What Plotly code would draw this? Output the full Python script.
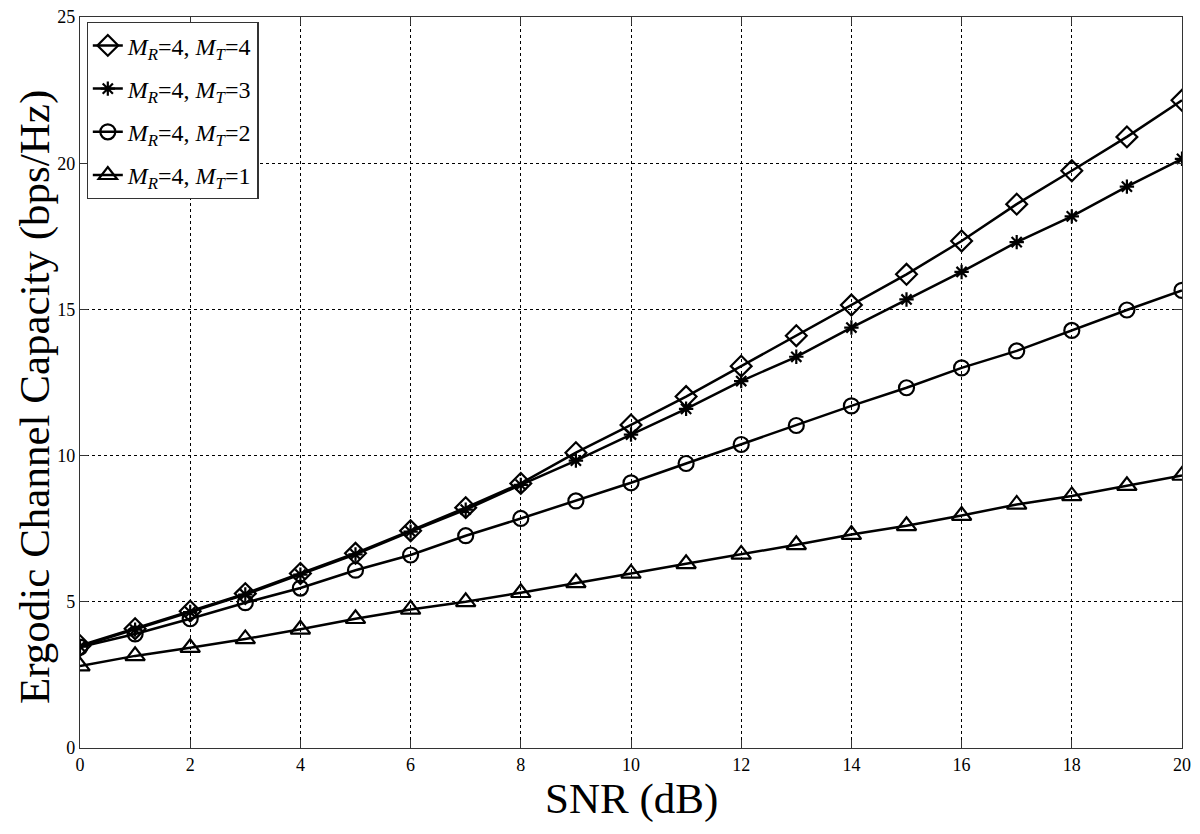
import plotly.graph_objects as go

snr_db = list(range(21))

cap_mt4 = [3.50, 4.08, 4.68, 5.28, 5.97, 6.66, 7.43, 8.22, 9.05, 10.10, 11.05,
           12.02, 13.06, 14.10, 15.15, 16.20, 17.34, 18.60, 19.74, 20.90, 22.15]
cap_mt3 = [3.47, 4.05, 4.65, 5.25, 5.93, 6.62, 7.40, 8.15, 9.00, 9.83, 10.72,
           11.60, 12.55, 13.38, 14.38, 15.34, 16.28, 17.30, 18.18, 19.20, 20.15]
cap_mt2 = [3.45, 3.90, 4.42, 4.97, 5.47, 6.08, 6.60, 7.26, 7.85, 8.45, 9.07,
           9.73, 10.38, 11.03, 11.70, 12.32, 13.00, 13.58, 14.28, 14.98, 15.65]
cap_mt1 = [2.80, 3.15, 3.43, 3.73, 4.06, 4.42, 4.74, 5.00, 5.31, 5.65, 5.97,
           6.30, 6.62, 6.95, 7.30, 7.60, 7.95, 8.33, 8.62, 8.97, 9.32]

series = [
    ("4", cap_mt4, "diamond-open", 16),
    ("3", cap_mt3, "asterisk-open", 12),
    ("2", cap_mt2, "circle-open", 15),
    ("1", cap_mt1, "triangle-up-open", 17),
]

FONT = "Liberation Serif, Times New Roman, serif"

fig = go.Figure()
for mt, values, symbol, size in series:
    fig.add_trace(go.Scatter(
        x=snr_db,
        y=values,
        mode="lines+markers",
        name=f"<i>M<sub>R</sub></i>=4, <i>M<sub>T</sub></i>={mt}",
        legendgroup=f"mt{mt}",
        line=dict(color="black", width=2.5),
        marker=dict(symbol=symbol, size=size, color="black",
                    line=dict(color="black", width=2.2)),
    ))

axis_common = dict(
    showline=True,
    linecolor="#333333",
    linewidth=1.2,
    mirror="ticks",
    ticks="inside",
    ticklen=8,
    tickcolor="#333333",
    showgrid=True,
    gridcolor="black",
    griddash="dot",
    gridwidth=1,
    zeroline=False,
    automargin=False,
    ticklabeloverflow="allow",
    tickfont=dict(family=FONT, size=18, color="black"),
)

fig.update_xaxes(range=[0, 20], dtick=2, tick0=0, **axis_common)
fig.update_yaxes(range=[0, 25], dtick=5, tick0=0, **axis_common)

# axis titles as annotations (the page body adds an 8px margin)
fig.add_annotation(
    text="SNR (dB)", xref="paper", yref="paper", x=0.5, y=-0.106,
    xanchor="center", yanchor="bottom", showarrow=False,
    font=dict(family=FONT, size=43, color="black"),
)
fig.add_annotation(
    text="Ergodic Channel Capacity (bps/Hz)", xref="paper", yref="paper",
    x=-0.041, y=0.48, xanchor="center", yanchor="middle", textangle=-90,
    showarrow=False, font=dict(family=FONT, size=43, color="black"),
)

fig.update_layout(
    width=1184,
    height=818,
    paper_bgcolor="white",
    plot_bgcolor="white",
    margin=dict(l=72, r=10, t=9, b=78),
    font=dict(family=FONT, color="black"),
    legend=dict(
        x=0.006, y=0.993, xanchor="left", yanchor="top",
        bgcolor="white",
        bordercolor="#333333",
        borderwidth=1.2,
        font=dict(family=FONT, size=24, color="black"),
        itemwidth=30,
        tracegroupgap=9,
    ),
    showlegend=True,
)

fig.write_html("out.html")
